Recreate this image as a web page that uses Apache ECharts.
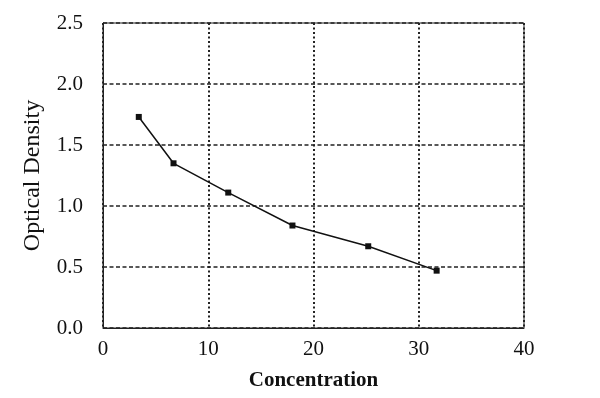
<!DOCTYPE html>
<html>
<head>
<meta charset="utf-8">
<script src="https://cdn.jsdelivr.net/npm/echarts@6/dist/echarts.min.js"></script>
<style>
html,body{margin:0;padding:0;background:#fff;}
#chart{width:600px;height:398px;}
</style>
</head>
<body>
<div id="chart"></div>
<script>
// 标准曲线数据
var concentration = [3.4, 6.7, 11.9, 18.0, 25.2, 31.7];
var opticalDensity = [1.73, 1.35, 1.11, 0.84, 0.67, 0.47];

var points = [];
for (var i = 0; i < concentration.length; i++) {
	points.push([concentration[i], opticalDensity[i]]);
}

var font = '"Liberation Serif", "DejaVu Serif", serif';

var options = {
	animation: false,
	grid: {
		left: 103,
		top: 23,
		right: 76,
		bottom: 70,
		show: true,
		borderColor: '#222',
		borderWidth: 1
	},
	xAxis: {
		type: 'value',
		min: 0,
		max: 40,
		interval: 10,
		name: 'Concentration',
		nameLocation: 'middle',
		nameGap: 42,
		nameTextStyle: {fontFamily: font, fontSize: 21, fontWeight: 'bold', color: '#111'},
		axisLine: {lineStyle: {color: '#222', width: 1}},
		axisTick: {show: false},
		axisLabel: {fontFamily: font, fontSize: 21, color: '#111', margin: 11},
		splitLine: {
			show: true,
			lineStyle: {color: '#222', width: 2, type: [2, 2.5]}
		}
	},
	yAxis: {
		type: 'value',
		min: 0,
		max: 2.5,
		interval: 0.5,
		name: 'Optical Density',
		nameLocation: 'middle',
		nameGap: 58,
		nameTextStyle: {fontFamily: font, fontSize: 24, color: '#111'},
		axisLine: {show: true, lineStyle: {color: '#222', width: 1}},
		axisTick: {show: false},
		axisLabel: {
			fontFamily: font, fontSize: 21, color: '#111', margin: 20,
			formatter: function (v) { return v.toFixed(1); }
		},
		splitLine: {
			show: true,
			lineStyle: {color: '#222', width: 1.5, type: [4, 2.5]}
		}
	},
	series: [
		{
			type: 'line',
			data: points,
			symbol: 'rect',
			symbolSize: 6,
			itemStyle: {color: '#111'},
			lineStyle: {color: '#111', width: 1.5}
		}
	]
};

var chart = echarts.init(document.getElementById('chart'));
chart.setOption(options);
</script>
</body>
</html>
